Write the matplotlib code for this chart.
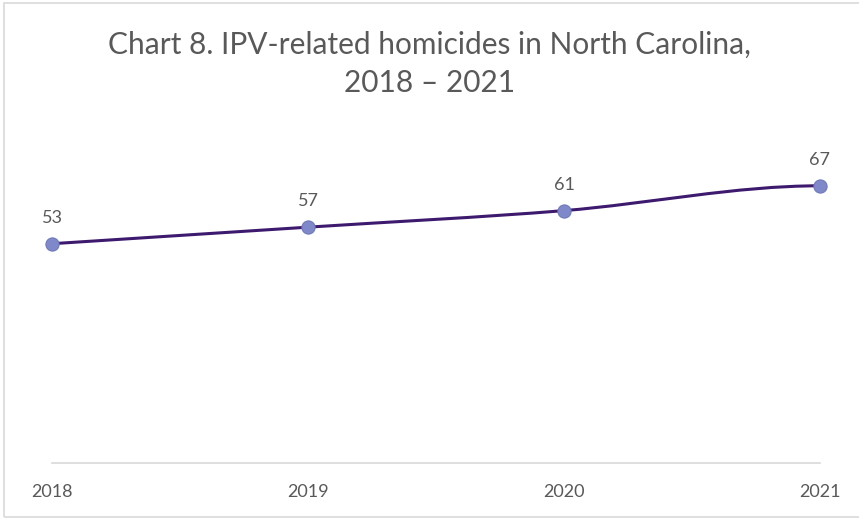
import numpy as np
import matplotlib
matplotlib.use("Agg")
import matplotlib.pyplot as plt
from matplotlib.path import Path
from matplotlib.patches import PathPatch, Rectangle

years = [2018, 2019, 2020, 2021]
homicides = [53, 57, 61, 67]
tick_labels = ["2018", "2019", "2020", "2021"]

title = "Chart 8. IPV-related homicides in North Carolina,\n2018 \u2013 2021"

line_color = "#3d1a6e"
marker_color = "#7f89c9"
text_color = "#595959"

plt.rcParams["font.family"] = ["Lato", "DejaVu Sans"]


def smooth_path(xs, ys):
    # cubic bezier through the points; the last segment arrives level
    pts = np.column_stack([xs, ys]).astype(float)
    n = len(pts)
    verts = [pts[0]]
    codes = [Path.MOVETO]
    for i in range(n - 1):
        p0 = pts[i]
        p1 = pts[i + 1]
        if i == 0:
            c1 = p0
        else:
            c1 = p0 + (p1 - pts[i - 1]) / 6
        if i == n - 2:
            c2 = np.array([p1[0] - (p1[0] - p0[0]) / 3, p1[1]])
        else:
            c2 = p1 - (pts[i + 2] - p0) / 6
        verts += [c1, c2, p1]
        codes += [Path.CURVE4] * 3
    return Path(verts, codes)


fig = plt.figure(figsize=(8.59, 5.19), dpi=100)
ax = fig.add_axes([52 / 859, 1 - 463 / 519, (820 - 52) / 859, (463 - 132) / 519])

ax.add_patch(PathPatch(smooth_path(years, homicides), facecolor="none",
                       edgecolor=line_color, linewidth=2.2, zorder=3,
                       clip_on=False, capstyle="round"))
ax.scatter(years, homicides, s=90, color=marker_color, edgecolors="#6f78bd",
           linewidths=0.8, zorder=4, clip_on=False)

for x, y in zip(years, homicides):
    ax.annotate(str(y), (x, y), xytext=(0, 13), textcoords="offset points",
                ha="center", va="bottom", fontsize=13, color=text_color)

ax.set_xlim(2018, 2021)
ax.set_ylim(0, 80)
ax.set_yticks([])
ax.set_xticks(years)
ax.set_xticklabels(tick_labels, fontsize=13, color=text_color)
ax.tick_params(axis="x", length=0, pad=15)
for s in ["top", "right", "left"]:
    ax.spines[s].set_visible(False)
ax.spines["bottom"].set_color("#d9d9d9")
ax.spines["bottom"].set_linewidth(1.2)

fig.text(0.5, 1 - 64 / 519, title, ha="center", va="center", fontsize=21.5,
         color=text_color, linespacing=1.45)

fig.patches.append(Rectangle((4 / 859, 2 / 519), 1.2, 1 - 5 / 519,
                             transform=fig.transFigure, fill=False,
                             edgecolor="#d9d9d9", linewidth=1.2))

fig.savefig("out.png", dpi=100)
